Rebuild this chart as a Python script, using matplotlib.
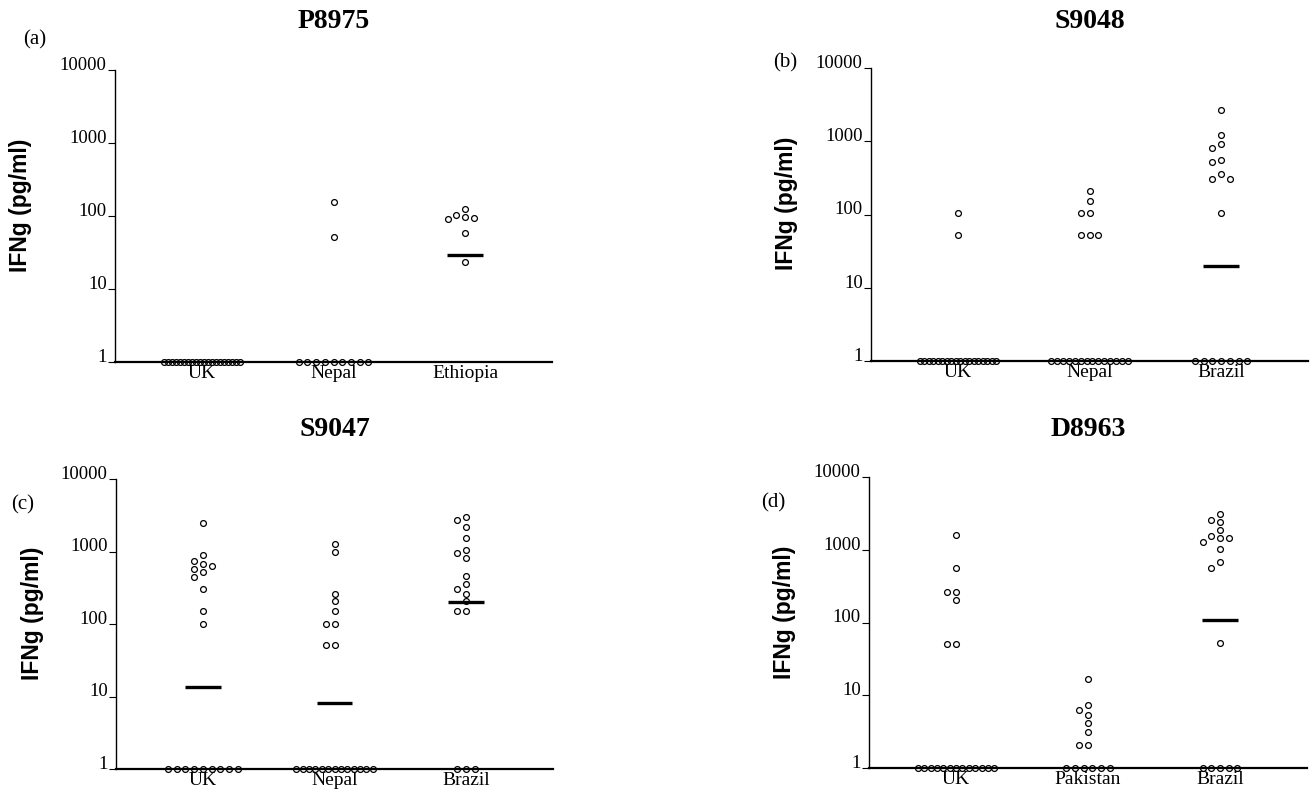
import matplotlib
matplotlib.use('Agg')
import matplotlib.pyplot as plt
from matplotlib.ticker import NullLocator
import numpy as np

plt.rcParams['font.family'] = 'Liberation Serif'

# IFNg responses (pg/ml); non-responders sit at 1
# (a) P8975
a_cats = ['UK', 'Nepal', 'Ethiopia']
a_uk = [1, 1, 1, 1, 1, 1, 1, 1, 1, 1, 1, 1, 1, 1, 1, 1, 1, 1, 1, 1]
a_nepal = [155, 52, 1, 1, 1, 1, 1, 1, 1, 1, 1]
a_ethiopia = [123, 97, 90, 95, 102, 58, 23.7]
a_med = [None, None, 29.5]

# (b) S9048
b_cats = ['UK', 'Nepal', 'Brazil']
b_uk = [105, 52, 1, 1, 1, 1, 1, 1, 1, 1, 1, 1, 1, 1, 1, 1, 1, 1, 1, 1]
b_nepal = [210, 155, 105, 105, 52, 52, 52, 1, 1, 1, 1, 1, 1, 1, 1, 1, 1, 1, 1, 1, 1]
b_brazil = [2650, 1210, 930, 820, 560, 520, 360, 307, 307, 105, 1, 1, 1, 1, 1, 1, 1]
b_med = [None, None, 20]

# (c) S9047
c_cats = ['UK', 'Nepal', 'Brazil']
c_uk = [2510, 890, 730, 680, 630, 565, 520, 450, 300, 150, 100,
        1, 1, 1, 1, 1, 1, 1, 1, 1]
c_nepal = [1280, 1000, 260, 206, 150, 100, 100, 51, 51,
           1, 1, 1, 1, 1, 1, 1, 1, 1, 1, 1, 1, 1]
c_brazil = [2970, 2760, 2170, 1540, 1040, 940, 825, 460, 360, 305, 260, 210, 150, 150,
            1, 1, 1]
c_med = [13.7, 8.2, 200]

# (d) D8963
d_cats = ['UK', 'Pakistan', 'Brazil']
d_uk = [1620, 555, 263, 263, 205, 51, 51, 1, 1, 1, 1, 1, 1, 1, 1, 1, 1, 1, 1, 1]
d_pakistan = [16.7, 7.3, 6.2, 5.3, 4.2, 3.1, 2.1, 2.1, 1, 1, 1, 1, 1, 1]
d_brazil = [3140, 2600, 2420, 1840, 1540, 1460, 1460, 1290, 1030, 680, 555, 52,
            1, 1, 1, 1, 1]
d_med = [None, None, 107]

titles = ['P8975', 'S9048', 'S9047', 'D8963']
tags = ['(a)', '(b)', '(c)', '(d)']
yticks = [1, 10, 100, 1000, 10000]
ytick_labels = ['1', '10', '100', '1000', '10000']

panels = [
    (a_cats, [a_uk, a_nepal, a_ethiopia], a_med),
    (b_cats, [b_uk, b_nepal, b_brazil], b_med),
    (c_cats, [c_uk, c_nepal, c_brazil], c_med),
    (d_cats, [d_uk, d_pakistan, d_brazil], d_med),
]

# layout in pixels: axes box (x0, x1, top, bottom), title y, tag xy, ylabel xy
W, H = 1316, 790
boxes = [(115, 552, 70, 362), (871, 1308, 68, 361), (116, 553, 479, 769), (869, 1307, 477, 768)]
title_y = [22, 21, 429, 430]
tag_xy = [(35, 40), (785, 63), (23, 505), (773, 503)]
ylab_xy = [(21, 205), (786, 203), (32, 613), (785, 612)]


def spread(vals, step, width):
    # simple dot-plot layout: zeros in a row, others nudged sideways to avoid overlap
    vals = np.asarray(vals, float)
    logv = np.log10(vals)
    off = np.zeros(len(vals))
    base = np.where(vals <= 1)[0]
    if len(base) > 1:
        s = min(step, width / (len(base) - 1))
        off[base] = (np.arange(len(base)) - (len(base) - 1) / 2) * s
    placed = []
    for i in sorted(np.where(vals > 1)[0], key=lambda j: -vals[j]):
        x = 0
        for k in [0, -1, 1, -2, 2, -3, 3]:
            x = k * step
            if all(abs(x - px) > step * 0.9 or abs(logv[i] - py) > 0.09 for px, py in placed):
                break
        off[i] = x
        placed.append((x, logv[i]))
    return off


fig = plt.figure(figsize=(W / 100, H / 100), dpi=100)

for p, (cats, groups, meds) in enumerate(panels):
    x0, x1, yt, yb = boxes[p]
    ax = fig.add_axes([x0 / W, 1 - yb / H, (x1 - x0) / W, (yb - yt) / H])
    ax.set_yscale('log')
    ax.set_ylim(1, 10000)
    ax.set_xlim(0.34, 3.66)

    for g, vals in enumerate(groups):
        off = spread(vals, 0.066, 0.58)
        ax.plot(g + 1 + off, vals, 'o', ls='none', mfc='none', mec='k', ms=4.2, mew=0.9,
                clip_on=False, zorder=3)
        if meds[g] is not None:
            ax.plot([g + 1 - 0.135, g + 1 + 0.135], [meds[g], meds[g]], color='k', lw=2.4,
                    solid_capstyle='butt')

    ax.set_yticks(yticks)
    ax.set_yticklabels(ytick_labels, fontsize=13.5, va='baseline')
    ax.yaxis.set_minor_locator(NullLocator())
    ax.tick_params(axis='y', direction='out', length=5, width=0.8, pad=1)
    ax.set_xticks([1, 2, 3])
    ax.set_xticklabels(cats, fontsize=14)
    ax.tick_params(axis='x', length=0, pad=2.5)

    for s in ['top', 'right']:
        ax.spines[s].set_visible(False)
    ax.spines['left'].set_linewidth(1.0)
    ax.spines['bottom'].set_linewidth(1.6)

    fig.text((x0 + x1) / 2 / W, 1 - title_y[p] / H, titles[p], ha='center', va='center',
             fontsize=20, fontweight='bold')
    fig.text(tag_xy[p][0] / W, 1 - tag_xy[p][1] / H, tags[p], ha='center', va='center',
             fontsize=15)
    fig.text(ylab_xy[p][0] / W, 1 - ylab_xy[p][1] / H, 'IFNg (pg/ml)', rotation=90,
             ha='center', va='center', fontsize=16.5, fontweight='bold',
             family='Liberation Sans')

fig.savefig('out.png', dpi=100)
